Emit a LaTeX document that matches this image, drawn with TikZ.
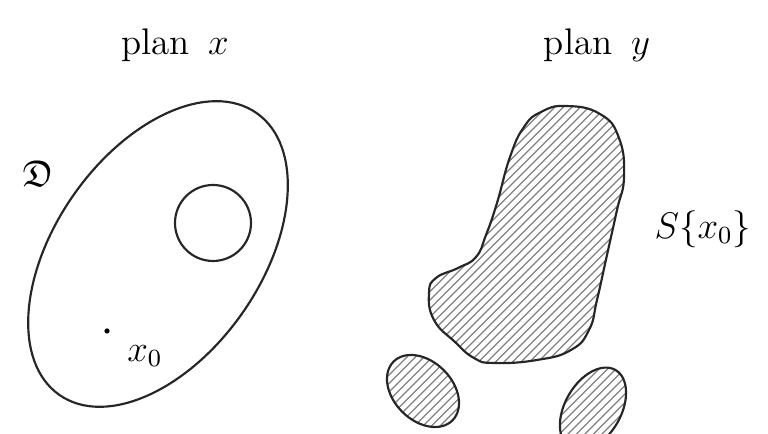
\documentclass[tikz,border=0pt]{standalone}
\usepackage{amssymb}

\tikzset{
    outline/.style={line width=0.7pt, black!85},
    hatch/.style={line width=0.35pt, black!50},
    label text/.style={inner sep=0pt, font=\large}
}

\begin{document}
\begin{tikzpicture}[x=0.324pt, y=-0.324pt]
    \useasboundingbox (0,0) rectangle (768,434);
    \clip (0,0) rectangle (768,434);

    % titles
    \node[label text] (planx) at (175,45) {plan\enspace$x$};
    \node[label text] (plany) at (597,45) {plan\enspace$y$};

    % plan x
    \draw[outline, rotate around={55:(158,254)}] (158,254) ellipse (172 and 103);
    \draw[outline] (213,223) circle (38);
    \node[label text] (dlabel) at (38,174) {$\mathfrak{D}$};
    \coordinate (x0) at (107,331);
    \fill (x0) circle (2.6);
    \node[label text] (xlabel) at (145,356) {$x_0$};

    % plan y
    \path[save path=\sblob] plot[smooth cycle, tension=0.8] coordinates {
        (566,106) (600,114) (619,138) (624,177) (617,210)
        (607,255) (597,300) (589,330) (571,350) (537,360) (494,363)
        (474,358) (455,342) (434,320) (429,293) (436,278)
        (458,268) (476,257) (486,235) (497,203)
        (510,157) (524,127) (541,112)
    };
    \path[save path=\sleft, rotate around={-45:(423,391)}] (423,391) ellipse (41.6 and 29.4);
    \path[save path=\sright, rotate around={60:(593,409)}] (593,409) ellipse (45 and 28);
    \foreach \shape in {\sblob,\sleft,\sright} {
        \begin{scope}
            \clip[use path=\shape];
            \foreach \c in {560,568.5,...,1100}
                \draw[hatch] (\c-500,500) -- (\c,0);
        \end{scope}
        \draw[outline, use path=\shape];
    }
    \node[label text] (slabel) at (703,229) {$S\{x_0\}$};
\end{tikzpicture}
\end{document}
